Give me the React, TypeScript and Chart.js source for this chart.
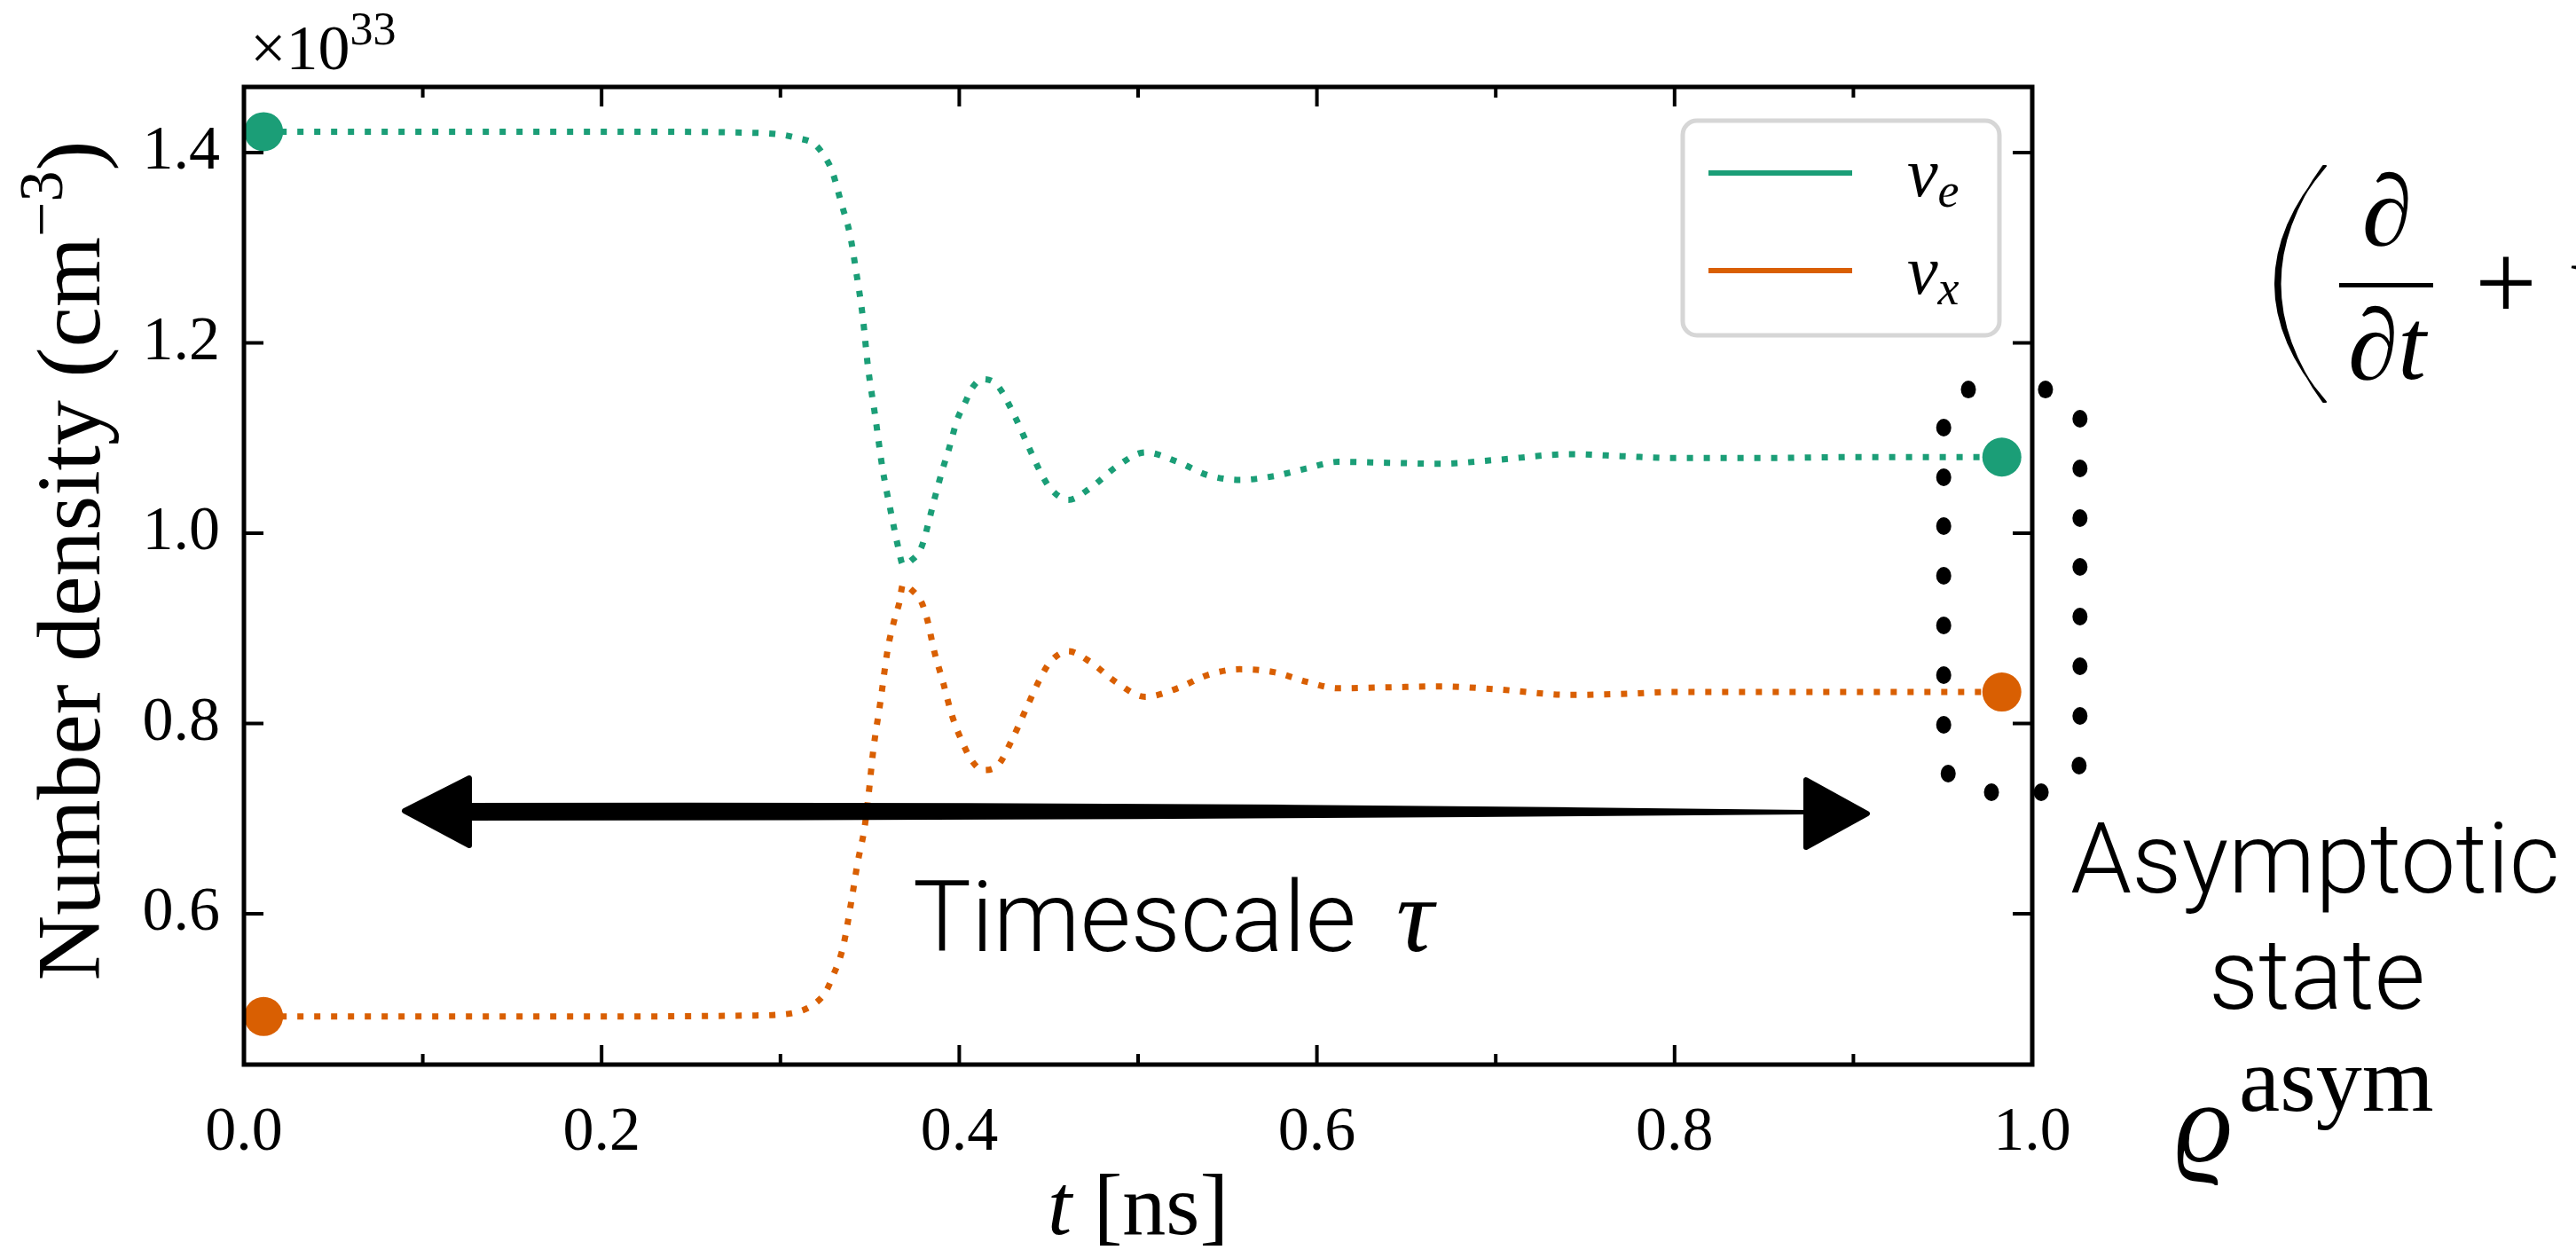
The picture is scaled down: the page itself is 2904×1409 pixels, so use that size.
import React, { useEffect, useRef } from "react";
import { Chart, registerables } from "chart.js";

Chart.register(...registerables);

// ---------- data ----------
const timeE = [0.011, 0.1, 0.2, 0.28, 0.3, 0.31, 0.319, 0.325, 0.329, 0.334, 0.339, 0.342, 0.346, 0.349, 0.353, 0.357, 0.362, 0.366, 0.3685, 0.373, 0.379, 0.384, 0.386, 0.391, 0.394, 0.399, 0.403, 0.407, 0.413, 0.421, 0.43, 0.438, 0.446, 0.451, 0.461, 0.473, 0.488, 0.504, 0.522, 0.539, 0.557, 0.576, 0.594, 0.612, 0.64, 0.669, 0.7, 0.742, 0.77, 0.799, 0.85, 0.9, 0.983];
const densityE = [1.422, 1.422, 1.422, 1.421, 1.419, 1.415, 1.409, 1.395, 1.38, 1.347, 1.313, 1.279, 1.228, 1.174, 1.123, 1.069, 1.02, 0.984, 0.967, 0.971, 0.986, 1.02, 1.035, 1.069, 1.087, 1.12, 1.136, 1.152, 1.162, 1.156, 1.127, 1.094, 1.062, 1.047, 1.035, 1.047, 1.07, 1.085, 1.075, 1.061, 1.056, 1.06, 1.068, 1.075, 1.074, 1.073, 1.077, 1.083, 1.081, 1.079, 1.079, 1.08, 1.08];

const timeX = [0.011, 0.1, 0.2, 0.28, 0.3, 0.31, 0.318, 0.325, 0.329, 0.335, 0.34, 0.343, 0.347, 0.349, 0.352, 0.356, 0.36, 0.364, 0.3665, 0.3685, 0.373, 0.379, 0.382, 0.386, 0.391, 0.396, 0.403, 0.407, 0.413, 0.421, 0.43, 0.438, 0.446, 0.451, 0.461, 0.473, 0.488, 0.504, 0.522, 0.539, 0.557, 0.576, 0.594, 0.612, 0.64, 0.669, 0.7, 0.742, 0.77, 0.799, 0.85, 0.9, 0.983];
const densityX = [0.492, 0.492, 0.492, 0.493, 0.494, 0.497, 0.504, 0.517, 0.533, 0.565, 0.617, 0.652, 0.69, 0.72, 0.773, 0.824, 0.878, 0.911, 0.927, 0.946, 0.941, 0.927, 0.91, 0.876, 0.843, 0.808, 0.775, 0.761, 0.751, 0.755, 0.785, 0.818, 0.85, 0.865, 0.876, 0.865, 0.843, 0.828, 0.837, 0.851, 0.857, 0.854, 0.844, 0.837, 0.838, 0.839, 0.836, 0.83, 0.831, 0.833, 0.833, 0.833, 0.833];

const markerTime = [0.011, 0.983];
const markerE = [1.422, 1.08];
const markerX = [0.492, 0.833];

// dotted ellipse around the asymptotic state (t, density)
const ellipseTime = [0.9643, 1.0074, 1.0267, 1.0267, 1.0267, 1.0267, 1.0267, 1.0267, 1.0267, 1.0262, 1.005, 0.9772, 0.953, 0.9505, 0.9505, 0.9505, 0.9505, 0.9505, 0.9505, 0.9505];
const ellipseDensity = [1.151, 1.151, 1.1203, 1.0681, 1.0159, 0.9646, 0.9124, 0.8601, 0.8079, 0.7557, 0.7277, 0.7277, 0.7473, 0.7986, 0.8508, 0.903, 0.9552, 1.0075, 1.0587, 1.111];

// timescale arrow (t range, density level)
const arrowTime = [0.0883, 0.9092];
const arrowDensity = 0.7072;

const xMajorTicks = [0, 0.2, 0.4, 0.6, 0.8, 1.0];
const xMinorTicks = [0.1, 0.3, 0.5, 0.7, 0.9];
const yMajorTicks = [0.6, 0.8, 1.0, 1.2, 1.4];

const seriesNames = ["e", "x"]; // nu subscripts
const GREEN = "#1b9e77";
const ORANGE = "#d95f02";

const SERIF = "'Liberation Serif', 'DejaVu Serif', serif";
const SANS = "Roboto, 'Liberation Sans', sans-serif";

type Run = { text: string; font: string; dy?: number };

function drawRuns(ctx: CanvasRenderingContext2D, runs: Run[], x: number, y: number, align: "left" | "center" | "right") {
  const widths = runs.map((r) => {
    ctx.font = r.font;
    return ctx.measureText(r.text).width;
  });
  const total = widths.reduce((a, b) => a + b, 0);
  let cx = align === "center" ? x - total / 2 : align === "right" ? x - total : x;
  ctx.textAlign = "left";
  ctx.textBaseline = "alphabetic";
  runs.forEach((r, i) => {
    ctx.font = r.font;
    ctx.fillText(r.text, cx, y + (r.dy || 0));
    cx += widths[i];
  });
}

function fitFont(ctx: CanvasRenderingContext2D, text: string, weight: string, family: string, target: number) {
  ctx.font = `${weight} 100px ${family}`;
  const w = ctx.measureText(text).width;
  return (100 * target) / w;
}

const decorPlugin = {
  id: "decor",
  afterDraw(chart: any) {
    const ctx: CanvasRenderingContext2D = chart.ctx;
    const { left, right, top, bottom } = chart.chartArea;
    const xs = chart.scales.x;
    const ys = chart.scales.y;
    ctx.save();
    ctx.fillStyle = "#000";
    ctx.strokeStyle = "#000";

    // ticks (inward, all sides)
    ctx.lineWidth = 4;
    ctx.lineCap = "butt";
    const seg = (x1: number, y1: number, x2: number, y2: number) => {
      ctx.beginPath();
      ctx.moveTo(x1, y1);
      ctx.lineTo(x2, y2);
      ctx.stroke();
    };
    xMajorTicks.forEach((v) => {
      const p = xs.getPixelForValue(v);
      seg(p, bottom, p, bottom - 22);
      seg(p, top, p, top + 22);
    });
    xMinorTicks.forEach((v) => {
      const p = xs.getPixelForValue(v);
      seg(p, bottom, p, bottom - 12);
      seg(p, top, p, top + 12);
    });
    yMajorTicks.forEach((v) => {
      const p = ys.getPixelForValue(v);
      seg(left, p, left + 22, p);
      seg(right, p, right - 22, p);
    });

    // frame
    ctx.lineWidth = 5;
    ctx.strokeRect(left, top, right - left, bottom - top);

    // dotted ellipse around the asymptotic state (through the chart scales)
    ctx.fillStyle = "#000";
    ellipseTime.forEach((t, i) => {
      const px = xs.getPixelForValue(t);
      const py = ys.getPixelForValue(ellipseDensity[i]);
      ctx.beginPath();
      ctx.ellipse(px, py, 8.5, 10, 0, 0, Math.PI * 2);
      ctx.fill();
    });

    // legend
    const lx0 = 1897, ly0 = 136, lx1 = 2254, ly1 = 378, rr = 16;
    ctx.beginPath();
    ctx.moveTo(lx0 + rr, ly0);
    ctx.arcTo(lx1, ly0, lx1, ly1, rr);
    ctx.arcTo(lx1, ly1, lx0, ly1, rr);
    ctx.arcTo(lx0, ly1, lx0, ly0, rr);
    ctx.arcTo(lx0, ly0, lx1, ly0, rr);
    ctx.closePath();
    ctx.fillStyle = "rgba(255,255,255,0.85)";
    ctx.fill();
    ctx.strokeStyle = "#d6d6d6";
    ctx.lineWidth = 5;
    ctx.stroke();
    const legendColors = [GREEN, ORANGE];
    const legendY = [195, 305];
    seriesNames.forEach((name, i) => {
      ctx.strokeStyle = legendColors[i];
      ctx.lineWidth = 6;
      seg(1926, legendY[i], 2088, legendY[i]);
      ctx.fillStyle = "#000";
      drawRuns(
        ctx,
        [
          { text: "\u03bd", font: `italic 78px ${SERIF}` },
          { text: name, font: `italic 54px ${SERIF}`, dy: 12 },
        ],
        2150,
        legendY[i] + 26,
        "left"
      );
    });

    ctx.fillStyle = "#000";
    ctx.strokeStyle = "#000";

    // axis titles
    ctx.save();
    ctx.translate(112, 632);
    ctx.rotate(-Math.PI / 2);
    drawRuns(
      ctx,
      [
        { text: "Number density (cm", font: `102px ${SERIF}` },
        { text: "\u22123", font: `70px ${SERIF}`, dy: -42 },
        { text: ")", font: `102px ${SERIF}` },
      ],
      0,
      0,
      "center"
    );
    ctx.restore();
    drawRuns(
      ctx,
      [
        { text: "t", font: `italic 98px ${SERIF}` },
        { text: " [ns]", font: `98px ${SERIF}` },
      ],
      (left + right) / 2,
      1391,
      "center"
    );

    // offset text
    drawRuns(
      ctx,
      [
        { text: "\u00d710", font: `72px ${SERIF}` },
        { text: "33", font: `52px ${SERIF}`, dy: -28 },
      ],
      282,
      78,
      "left"
    );

    // timescale arrow
    const ax0 = xs.getPixelForValue(arrowTime[0]);
    const ax1 = xs.getPixelForValue(arrowTime[1]);
    const ay = ys.getPixelForValue(arrowDensity);
    const headL = 76, headH = 38;
    ctx.beginPath();
    ctx.moveTo(ax0 + headL - 6, ay - 10);
    ctx.quadraticCurveTo((ax0 + ax1) / 2, ay - 12, ax1 - headL + 4, ay - 2);
    ctx.lineTo(ax1 - headL + 4, ay + 3);
    ctx.quadraticCurveTo((ax0 + ax1) / 2, ay + 10, ax0 + headL - 6, ay + 10);
    ctx.closePath();
    ctx.fill();
    ctx.lineJoin = "round";
    ctx.lineWidth = 6;
    ctx.beginPath();
    ctx.moveTo(ax0 + 3, ay - 1);
    ctx.lineTo(ax0 + headL, ay - headH);
    ctx.lineTo(ax0 + headL, ay + headH);
    ctx.closePath();
    ctx.fill();
    ctx.stroke();
    ctx.beginPath();
    ctx.moveTo(ax1 - 3, ay + 2);
    ctx.lineTo(ax1 - headL + 4, ay - headH + 2);
    ctx.lineTo(ax1 - headL + 4, ay + headH + 2);
    ctx.closePath();
    ctx.fill();
    ctx.stroke();

    // "Timescale tau"
    const tsSize = fitFont(ctx, "Timescale", "300", SANS, 500);
    drawRuns(ctx, [{ text: "Timescale", font: `300 ${tsSize}px ${SANS}` }], 1029, 1072, "left");
    drawRuns(ctx, [{ text: "\u03c4", font: `italic 118px ${SERIF}` }], 1574, 1072, "left");

    // Asymptotic state
    const asSize = fitFont(ctx, "Asymptotic", "300", SANS, 552);
    drawRuns(ctx, [{ text: "Asymptotic", font: `300 ${asSize}px ${SANS}` }], 2610, 1006, "center");
    drawRuns(ctx, [{ text: "state", font: `300 ${asSize}px ${SANS}` }], 2612, 1137, "center");
    drawRuns(ctx, [{ text: "\u03f1", font: `italic 128px ${SERIF}` }], 2452, 1309, "left");
    drawRuns(ctx, [{ text: "asym", font: `104px ${SERIF}` }], 2524, 1252, "left");

    // partial equation at the top right
    ctx.beginPath();
    ctx.moveTo(2622, 187);
    ctx.quadraticCurveTo(2508, 320, 2622, 453);
    ctx.lineTo(2619, 453);
    ctx.quadraticCurveTo(2522, 320, 2619, 187);
    ctx.closePath();
    ctx.fill();
    ctx.lineWidth = 2;
    ctx.stroke();
    drawRuns(ctx, [{ text: "\u2202", font: `italic 114px ${SERIF}` }], 2691, 276, "center");
    ctx.fillRect(2637, 319, 106, 5);
    drawRuns(
      ctx,
      [
        { text: "\u2202", font: `italic 114px ${SERIF}` },
        { text: "t", font: `italic 114px ${SERIF}` },
      ],
      2691,
      427,
      "center"
    );
    drawRuns(ctx, [{ text: "+", font: `124px ${SERIF}` }], 2825, 360, "center");
    drawRuns(ctx, [{ text: "v", font: `italic 124px ${SERIF}` }], 2897, 357, "left");

    ctx.restore();
  },
};

export default function App() {
  const canvasRef = useRef<HTMLCanvasElement | null>(null);

  useEffect(() => {
    if (!canvasRef.current) return;
    const pts = (xs: number[], ys: number[]) => xs.map((x, i) => ({ x, y: ys[i] }));
    const chart = new Chart(canvasRef.current, {
      type: "line",
      data: {
        datasets: [
          {
            label: "nu_e",
            data: pts(timeE, densityE),
            borderColor: GREEN,
            borderWidth: 7,
            borderDash: [7, 12],
            borderCapStyle: "butt",
            pointRadius: 0,
            cubicInterpolationMode: "monotone",
            fill: false,
            order: 5,
          },
          {
            label: "nu_x",
            data: pts(timeX, densityX),
            borderColor: ORANGE,
            borderWidth: 7,
            borderDash: [7, 12],
            borderCapStyle: "butt",
            pointRadius: 0,
            cubicInterpolationMode: "monotone",
            fill: false,
            order: 4,
          },
          {
            label: "nu_e markers",
            data: pts(markerTime, markerE),
            showLine: false,
            pointRadius: 22,
            pointBackgroundColor: GREEN,
            pointBorderWidth: 0,
            order: 2,
          },
          {
            label: "nu_x markers",
            data: pts(markerTime, markerX),
            showLine: false,
            pointRadius: 22,
            pointBackgroundColor: ORANGE,
            pointBorderWidth: 0,
            order: 2,
          },
        ] as any,
      },
      options: {
        responsive: false,
        animation: false,
        devicePixelRatio: 1,
        layout: { padding: { top: 98, right: 613, left: 0, bottom: 0 } },
        plugins: { legend: { display: false }, tooltip: { enabled: false } },
        scales: {
          x: {
            type: "linear",
            min: 0,
            max: 1,
            grid: { display: false, drawTicks: false, tickLength: 0 },
            border: { display: false },
            ticks: {
              stepSize: 0.2,
              autoSkip: false,
              maxRotation: 0,
              padding: 36,
              color: "#000",
              font: { family: SERIF, size: 70 },
              callback: (v: any) => Number(v).toFixed(1),
            },
            afterFit: (s: any) => {
              s.height = 209;
            },
          },
          y: {
            type: "linear",
            min: 0.4415,
            max: 1.469,
            grid: { display: false, drawTicks: false, tickLength: 0 },
            border: { display: false },
            ticks: {
              stepSize: 0.2,
              includeBounds: false,
              padding: 27,
              color: "#000",
              font: { family: SERIF, size: 70 },
              callback: (v: any) => Number(v).toFixed(1),
            },
            afterFit: (s: any) => {
              s.width = 275;
            },
          },
        },
      } as any,
      plugins: [decorPlugin],
    });
    return () => chart.destroy();
  }, []);

  return (
    <div style={{ position: "absolute", left: 0, top: 0, width: 2904, height: 1409, background: "#fff" }}>
      <canvas ref={canvasRef} width={2904} height={1409} style={{ width: 2904, height: 1409, display: "block" }} />
    </div>
  );
}
